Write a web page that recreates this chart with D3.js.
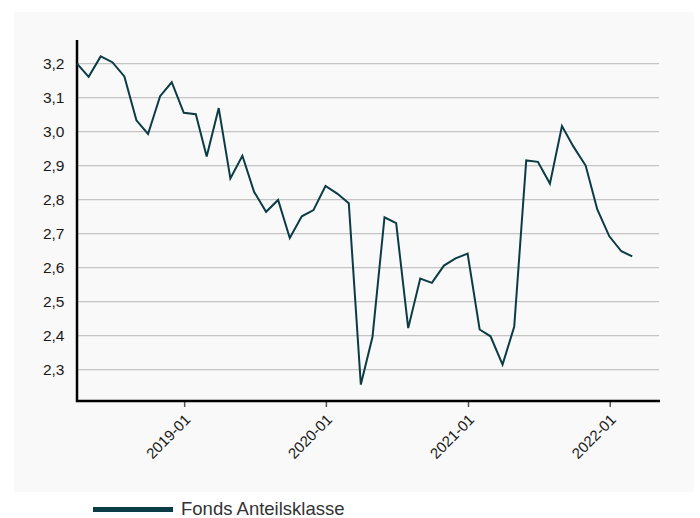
<!DOCTYPE html>
<html>
<head>
<meta charset="utf-8">
<script src="https://cdn.jsdelivr.net/npm/d3@7"></script>
<style>
  html, body { margin: 0; padding: 0; background: #ffffff; }
  svg { display: block; font-family: "Liberation Sans", Arial, sans-serif; }
</style>
</head>
<body>
<svg id="chart" width="700" height="518"></svg>
<script>
// Month-end dates, 2018-03 .. 2022-02
const months = [
  "2018-03","2018-04","2018-05","2018-06","2018-07","2018-08","2018-09","2018-10","2018-11","2018-12",
  "2019-01","2019-02","2019-03","2019-04","2019-05","2019-06","2019-07","2019-08","2019-09","2019-10","2019-11","2019-12",
  "2020-01","2020-02","2020-03","2020-04","2020-05","2020-06","2020-07","2020-08","2020-09","2020-10","2020-11","2020-12",
  "2021-01","2021-02","2021-03","2021-04","2021-05","2021-06","2021-07","2021-08","2021-09","2021-10","2021-11","2021-12",
  "2022-01","2022-02"
];
const values = [
  3.200, 3.161, 3.221, 3.204, 3.162, 3.033, 2.993, 3.104, 3.145, 3.055,
  3.051, 2.927, 3.069, 2.862, 2.929, 2.823, 2.764, 2.799, 2.687, 2.751, 2.769, 2.840,
  2.817, 2.789, 2.256, 2.396, 2.748, 2.731, 2.422, 2.568, 2.555, 2.606, 2.627, 2.641,
  2.418, 2.398, 2.315, 2.426, 2.915, 2.911, 2.847, 3.016, 2.955, 2.900, 2.771, 2.692,
  2.648, 2.633
];
const yTicks = [2.3, 2.4, 2.5, 2.6, 2.7, 2.8, 2.9, 3.0, 3.1, 3.2];
const xTicks = ["2019-01", "2020-01", "2021-01", "2022-01"];
const seriesName = "Fonds Anteilsklasse";

(function () {
const parseMonth = d3.timeParse("%Y-%m");
const monthEnd = m => d3.timeDay.offset(d3.timeMonth.offset(parseMonth(m), 1), -1);
const data = months.map((m, i) => ({ date: monthEnd(m), value: values[i] }));

const svg = d3.select("#chart");
const mL = 77, mR = 660, mT = 40, mB = 401;

svg.append("rect").attr("x", 14).attr("y", 12).attr("width", 680).attr("height", 480).attr("fill", "#f9f9f9");

const t0 = data[0].date, t1 = data[data.length - 1].date;
const span = t1 - t0;
const x = d3.scaleTime().domain([t0, new Date(+t1 + span * 0.05)]).range([mL, mR]);

const [vMin, vMax] = d3.extent(values);
const pad = (vMax - vMin) * 0.05;
const y = d3.scaleLinear().domain([vMin - pad, vMax + pad]).range([mB, mT]);

// gridlines
svg.append("g").selectAll("line").data(yTicks).join("line")
  .attr("x1", mL).attr("x2", mR - 1)
  .attr("y1", d => y(d)).attr("y2", d => y(d))
  .attr("stroke", "#c4c4c4").attr("stroke-width", 1.2);

// y labels
const fmt = d => d3.format(".1f")(d).replace(".", ",");
svg.append("g").selectAll("text").data(yTicks).join("text")
  .attr("x", 64.5).attr("y", d => y(d)).attr("dy", "0.36em")
  .attr("text-anchor", "end").attr("font-size", 15.5).attr("fill", "#1a1a1a")
  .text(fmt);

// x axis
const xAxis = d3.axisBottom(x)
  .tickValues(xTicks.map(parseMonth))
  .tickFormat(d3.timeFormat("%Y-%m"))
  .tickSize(6).tickPadding(4);
const gx = svg.append("g").attr("transform", `translate(0,${mB})`).call(xAxis);
gx.select(".domain").remove();
gx.selectAll(".tick line").attr("stroke", "#555").attr("stroke-width", 1.5);
gx.selectAll(".tick text")
  .attr("font-size", 15).attr("fill", "#1a1a1a")
  .attr("font-family", "Liberation Sans, Arial, sans-serif")
  .attr("text-anchor", "end")
  .attr("x", 0).attr("y", 0)
  .attr("dx", 0).attr("dy", "0.35em")
  .attr("transform", "translate(3,16) rotate(-45)");

// axis lines
svg.append("line").attr("x1", mL).attr("x2", mL).attr("y1", mT).attr("y2", mB + 1)
  .attr("stroke", "#000").attr("stroke-width", 2.5);
svg.append("line").attr("x1", mL - 1).attr("x2", mR).attr("y1", mB).attr("y2", mB)
  .attr("stroke", "#000").attr("stroke-width", 2.5);

// line
const line = d3.line().x(d => x(d.date)).y(d => y(d.value));
svg.append("path").datum(data).attr("d", line)
  .attr("fill", "none").attr("stroke", "#0b3c45").attr("stroke-width", 2)
  .attr("stroke-linejoin", "miter");

// legend
svg.append("line").attr("x1", 93).attr("x2", 173).attr("y1", 509.5).attr("y2", 509.5)
  .attr("stroke", "#0b3c45").attr("stroke-width", 5);
svg.append("text").attr("x", 181).attr("y", 515)
  .attr("font-size", 18.5).attr("fill", "#333").text(seriesName);
})();
</script>
</body>
</html>
